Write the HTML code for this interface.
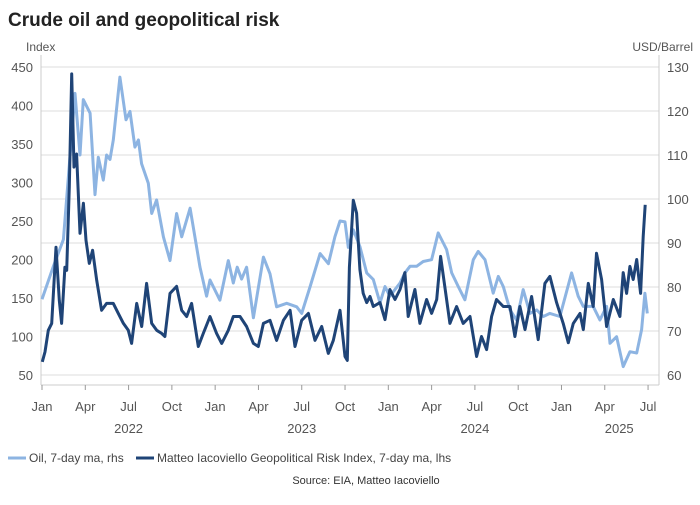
<!DOCTYPE html>
<html><head><meta charset="utf-8"><style>
body{margin:0;background:#fff;font-family:"Liberation Sans",sans-serif;}
svg text{font-family:"Liberation Sans",sans-serif;}
</style></head><body>
<svg id="chart" width="700" height="500" viewBox="0 0 700 500">
<text x="8" y="26" font-size="19" font-weight="bold" fill="#222">Crude oil and geopolitical risk</text>
<text x="26" y="51" font-size="12" fill="#555">Index</text>
<text x="693" y="51" font-size="12" fill="#555" text-anchor="end">USD/Barrel</text>
<g id="grid"></g><g id="axes"></g><g id="series"></g>
<g>
<line x1="8" y1="458" x2="26" y2="458" stroke="#8db4e2" stroke-width="3"/>
<text x="29" y="462" font-size="12" fill="#444">Oil, 7-day ma, rhs</text>
<line x1="136" y1="458" x2="154" y2="458" stroke="#1f4477" stroke-width="3"/>
<text x="157" y="462" font-size="12" fill="#444">Matteo Iacoviello Geopolitical Risk Index, 7-day ma, lhs</text>
</g>
<text x="366" y="484" font-size="11" fill="#333" text-anchor="middle">Source: EIA, Matteo Iacoviello</text>
</svg>
<script>
const leftTicks=[50,100,150,200,250,300,350,400,450];
const rightTicks=[60,70,80,90,100,110,120,130];
const monthLabels=["Jan","Apr","Jul","Oct","Jan","Apr","Jul","Oct","Jan","Apr","Jul","Oct","Jan","Apr","Jul"];
const yearLabels=["2022","2023","2024","2025"];
const yearMid=[6,18,30,40];
// months since Jan 2022
const oilT=[0,0.79,1.48,2.29,2.63,2.86,3.33,3.67,3.9,4.25,4.48,4.71,4.94,5.4,5.82,6.1,6.44,6.68,6.9,7.37,7.6,7.94,8.41,8.87,9.33,9.68,10.26,10.95,11.41,11.64,12.33,12.91,13.26,13.53,13.83,14.18,14.65,15.34,15.8,16.26,16.96,17.65,18,18.57,19.27,19.85,20.3,20.65,21,21.23,21.57,22.03,22.5,22.96,23.42,23.77,24.11,24.81,25.15,25.5,25.96,26.42,27,27.46,27.81,28.04,28.39,28.85,29.31,29.89,30.23,30.7,31.27,31.62,31.97,32.43,32.89,33.35,33.81,34.28,34.74,35.2,35.89,36.7,37.16,37.51,38.2,38.66,39.13,39.36,39.82,40.28,40.74,41.21,41.55,41.78,41.95];
const oilV=[77.2,84.7,90.8,124,110,122.6,119.5,101,109.5,104.3,110,109,113.4,127.7,118,119.9,111.8,113.4,108,103.6,96.7,99.8,91.4,86,96.7,91.4,97.9,84.5,77.9,81.6,77,86,80.9,84.5,81.8,84.5,73,86.8,83,75.5,76.3,75.5,74,80,87.6,85.3,91.4,95,94.8,89,93,89.2,83.2,81.7,76.4,80.1,77.9,80.9,83.2,84.7,84.7,85.8,86.2,92.3,90,88.5,83.2,80.1,77.1,86.2,88.1,86.2,78.6,82.4,80.1,74.8,72.5,79.4,74,74.8,73.3,74,73.3,83.2,77.9,75.6,75.6,72.5,75.6,67.2,68.7,61.9,65.3,65,70.3,78.6,74];
const gprT=[0.02,0.21,0.44,0.67,0.97,1.2,1.36,1.59,1.71,1.89,2.06,2.22,2.4,2.63,2.87,3.05,3.28,3.51,3.79,4.13,4.48,4.94,5.29,5.64,5.98,6.21,6.56,6.91,7.25,7.6,7.95,8.29,8.52,8.87,9.33,9.68,10.03,10.37,10.83,11.18,11.64,12.1,12.45,12.91,13.26,13.72,14.18,14.65,14.99,15.34,15.8,16.26,16.73,17.19,17.53,18,18.46,18.92,19.38,19.84,20.19,20.65,21,21.16,21.3,21.57,21.8,22.03,22.26,22.5,22.73,22.96,23.42,23.77,24.11,24.46,24.81,25.15,25.38,25.84,26.19,26.65,27,27.35,27.62,28.04,28.27,28.73,29.19,29.66,30.12,30.46,30.81,31.16,31.5,31.97,32.43,32.77,33.12,33.47,33.93,34.39,34.85,35.2,35.66,36.12,36.47,36.82,37.28,37.51,37.86,38.2,38.43,38.78,39.13,39.59,40.05,40.28,40.51,40.74,40.97,41.21,41.48,41.66,41.8];
const gprV=[67,80,108,117,216,147,117,190,186,294,441,320,337,234,273,225,195,212,173,134,143,143,130,117,108,91,143,113,169,117,108,104,100,156,165,134,126,143,87,104,126,104,91,108,126,126,113,91,87,117,121,95,121,134,87,121,130,95,113,78,95,134,74,69,190,277,260,187,156,144,152,139,144,122,161,148,161,183,126,161,117,148,130,148,204,148,117,139,117,126,74,100,83,126,148,139,139,100,139,109,152,96,169,178,144,117,92,117,130,109,169,139,208,174,113,148,126,183,156,191,174,200,156,230,271];
const NS="http://www.w3.org/2000/svg";
const X0=42,MW=14.43,PT=67,PB=375,PL=41,PR=659;
const xS=m=>X0+m*MW;
const yL=v=>PB-(v-50)/400*(PB-PT);
const yR=v=>PB-(v-60)/70*(PB-PT);
function mk(tag,attrs,parent){const e=document.createElementNS(NS,tag);for(const k in attrs)e.setAttribute(k,attrs[k]);parent.appendChild(e);return e;}
const grid=document.getElementById('grid'),axes=document.getElementById('axes'),series=document.getElementById('series');
rightTicks.forEach(v=>{
 const l=mk('line',{x1:PL,x2:PR,y1:yR(v),y2:yR(v),stroke:'#dcdcdc','stroke-width':1},grid);
 
 
 const t=mk('text',{x:PR+8,y:yR(v)+5,'font-size':13,fill:'#555'},axes);t.textContent=v;
 
 
});
leftTicks.forEach(v=>{
 const t=mk('text',{x:33,y:yL(v)+5,'font-size':13,fill:'#555','text-anchor':'end'},axes);t.textContent=v;
 
 
});
mk('line',{x1:PL,x2:PL,y1:55,y2:385,stroke:'#ccc'},axes);
mk('line',{x1:PR,x2:PR,y1:55,y2:385,stroke:'#ccc'},axes);
mk('line',{x1:PL,x2:PR,y1:385,y2:385,stroke:'#ccc'},axes);
monthLabels.forEach((s,i)=>{
 const x=xS(i*3);
 mk('line',{x1:x,x2:x,y1:385,y2:390,stroke:'#999'},axes);
 const t=mk('text',{x:x,y:411,'font-size':13,fill:'#555','text-anchor':'middle'},axes);t.textContent=s;
 
 
});
yearLabels.forEach((s,i)=>{
 const t=mk('text',{x:xS(yearMid[i]),y:433,'font-size':13,fill:'#555','text-anchor':'middle'},axes);t.textContent=s;
 
 
});
const oilP=mk('path',{d:oilT.map((m,i)=>(i?'L':'M')+xS(m).toFixed(1)+','+yR(oilV[i]).toFixed(1)).join(''),fill:'none',stroke:'#8db4e2','stroke-width':3,'stroke-linejoin':'round'},series);


const gprP=mk('path',{d:gprT.map((m,i)=>(i?'L':'M')+xS(m).toFixed(1)+','+yL(gprV[i]).toFixed(1)).join(''),fill:'none',stroke:'#1f4477','stroke-width':3,'stroke-linejoin':'round'},series);


</script>
</body></html>
